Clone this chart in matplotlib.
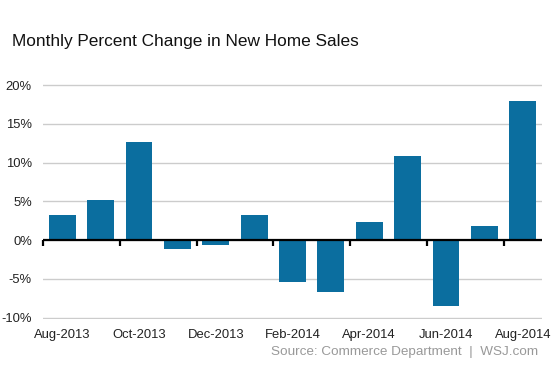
import matplotlib
matplotlib.use("Agg")
import matplotlib.pyplot as plt
import numpy as np

months = ["Aug-2013", "Sep-2013", "Oct-2013", "Nov-2013", "Dec-2013", "Jan-2014",
          "Feb-2014", "Mar-2014", "Apr-2014", "May-2014", "Jun-2014", "Jul-2014", "Aug-2014"]
pct_change = [3.2, 5.2, 12.7, -1.1, -0.6, 3.3, -5.4, -6.7, 2.4, 10.8, -8.5, 1.8, 18.0]
yticks = [-10, -5, 0, 5, 10, 15, 20]
ytick_labels = ["-10%", "-5%", "0%", "5%", "10%", "15%", "20%"]

plt.rcParams['font.family'] = ['Liberation Sans', 'DejaVu Sans']

W, H = 553, 369
fig = plt.figure(figsize=(W / 100, H / 100), dpi=100)
top_px, bot_px = 83.45, 319.25
left_px, right_px = 43, 542
ax = fig.add_axes([left_px / W, 1 - bot_px / H, (right_px - left_px) / W, (bot_px - top_px) / H])

x = np.arange(len(months))
bar_color = "#0b6e9f"
ax.bar(x, pct_change, width=0.70, color=bar_color, zorder=3)

ax.set_xlim(-0.5, len(months) - 0.5)
ax.set_ylim(-10.2, 20.2)
ax.set_yticks(yticks)
ax.set_yticklabels(ytick_labels)
ax.yaxis.grid(True, color="#cccccc", linewidth=1.0, zorder=0)
ax.set_axisbelow(True)
for s in ax.spines.values():
    s.set_visible(False)
ax.tick_params(axis="y", length=0, pad=8, labelsize=9.4, labelcolor="#222222")

ax.set_xticks(x[::2])
ax.set_xticklabels(months[::2])
ax.tick_params(axis="x", length=0, pad=7, labelsize=9.4, labelcolor="#222222")

ax.axhline(0, color="black", linewidth=1.6, zorder=4)
bounds = np.arange(-0.5, len(months) - 1, 2)
ax.plot(bounds, np.zeros_like(bounds), linestyle="none", marker=3, markersize=4,
        markeredgewidth=1.6, color="black", zorder=4, clip_on=False)

fig.text(12.5 / W, 1 - 41.7 / H, "Monthly Percent Change in New Home Sales",
         fontsize=12.4, color="#111111", ha="left", va="center")
fig.text(538 / W, 1 - 352 / H, "Source: Commerce Department  |  WSJ.com",
         fontsize=9.7, color="#999999", ha="right", va="center")

fig.savefig("out.png", dpi=100)
